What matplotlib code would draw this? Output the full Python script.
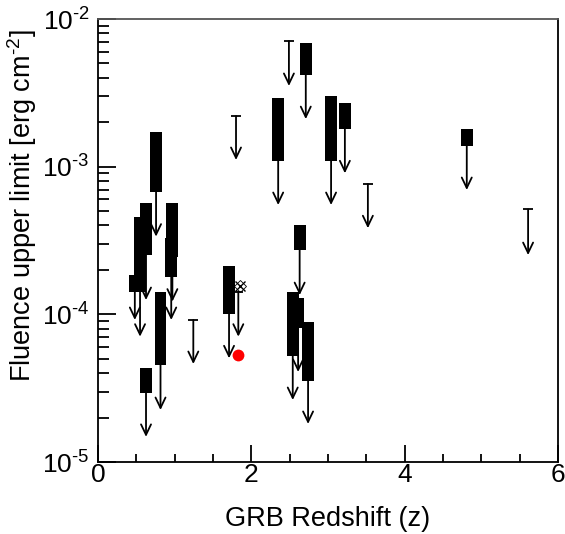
import matplotlib
matplotlib.use("Agg")
import matplotlib.pyplot as plt
from matplotlib.ticker import MultipleLocator, LogLocator, NullFormatter, FuncFormatter
import numpy as np

plt.rcParams["font.family"] = ["Liberation Sans", "DejaVu Sans"]
plt.rcParams["mathtext.fontset"] = "custom"
plt.rcParams["mathtext.rm"] = "Liberation Sans"
plt.rcParams["mathtext.it"] = "Liberation Sans:italic"

# ── GRBs with a fluence range (thick bar) and an upper-limit arrow ──────────
bar_z      = [0.48, 0.548, 0.626, 0.757, 0.955, 0.97, 0.815, 0.626, 1.709,
              2.35, 2.71, 3.04, 3.22, 4.81, 2.63, 2.54, 2.61, 2.74]
bar_top    = [1.85e-4, 4.58e-4, 5.70e-4, 1.71e-3, 3.27e-4, 5.70e-4, 1.42e-4, 4.31e-5, 2.12e-4,
              2.90e-3, 6.84e-3, 3.01e-3, 2.69e-3, 1.80e-3, 4.03e-4, 1.41e-4, 1.30e-4, 8.83e-5]
bar_bottom = [1.42e-4, 1.42e-4, 2.52e-4, 6.77e-4, 1.80e-4, 2.46e-4, 4.54e-5, 2.92e-5, 1.005e-4,
              1.10e-3, 4.18e-3, 1.10e-3, 1.80e-3, 1.39e-3, 2.73e-4, 5.25e-5, 8.04e-5, 3.54e-5]
bar_tip    = [9.16e-5, 7.06e-5, 1.25e-4, 3.36e-4, 9.16e-5, 1.22e-4, 2.25e-5, 1.48e-5, 5.04e-5,
              5.50e-4, 2.10e-3, 5.50e-4, 9.02e-4, 6.95e-4, 1.35e-4, 2.63e-5, 4.07e-5, 1.81e-5]

# ── GRBs with a single upper limit (cap + arrow) ────────────────────────────
cap_z   = [1.243, 1.80, 1.83, 2.49, 3.52, 5.61]
cap_val = [9.16e-5, 2.20e-3, 1.42e-4, 7.10e-3, 7.63e-4, 5.14e-4]
cap_tip = [4.61e-5, 1.11e-3, 7.06e-5, 3.52e-3, 3.83e-4, 2.52e-4]

# special markers
cross_z, cross_val = 1.852, 1.556e-4
red_z, red_val = 1.82, 5.31e-5

fig = plt.figure(figsize=(5.65, 5.34), dpi=100)
ax = fig.add_axes([0.1735, 0.1348, 0.8141, 0.8296])
ax.set_yscale("log")
ax.set_xlim(0, 6)
ax.set_ylim(1e-5, 1e-2)

arrow_style = "->,head_length=0.75,head_width=0.36"

for z, top, bot, tip in zip(bar_z, bar_top, bar_bottom, bar_tip):
    ax.annotate("", xy=(z, tip), xytext=(z, bot),
                arrowprops=dict(arrowstyle=arrow_style, color="black", lw=1.3,
                                shrinkA=0, shrinkB=0))
ax.bar(bar_z, [t - b for t, b in zip(bar_top, bar_bottom)], bottom=bar_bottom,
       width=0.155, color="black", zorder=3)

for z, v, tip in zip(cap_z, cap_val, cap_tip):
    ax.annotate("", xy=(z, tip), xytext=(z, v),
                arrowprops=dict(arrowstyle=arrow_style, color="black", lw=1.3,
                                shrinkA=0, shrinkB=0))
    ax.hlines(v, z - 0.065, z + 0.065, color="black", lw=1.3)

ax.plot([cross_z], [cross_val], marker="x", ms=7, mew=1.0, color="black", zorder=4)
ax.plot([cross_z], [cross_val], marker="D", ms=6, mew=0.6, mfc="none", mec="black", zorder=4)
ax.plot([red_z], [red_val], marker="o", ms=8.5, color="#ff0000", mec="none", zorder=5)

ax.xaxis.set_major_locator(MultipleLocator(2))
ax.xaxis.set_minor_locator(MultipleLocator(0.5))
ax.yaxis.set_major_locator(LogLocator(base=10))
ax.yaxis.set_minor_locator(LogLocator(base=10, subs=range(2, 10)))
ax.yaxis.set_minor_formatter(NullFormatter())
# exponent written with a plain hyphen, as in the original figure
ax.yaxis.set_major_formatter(FuncFormatter(
    lambda v, pos: r"$\mathdefault{10^{\text{-%d}}}$" % round(-np.log10(v))))

ax.tick_params(which="both", direction="in", top=False, right=False,
               labelsize=19, width=1.3)
ax.tick_params(axis="y", which="major", length=13, pad=6)
ax.tick_params(axis="y", which="minor", length=8)
ax.tick_params(axis="x", which="major", length=12, pad=1)
ax.tick_params(axis="x", which="minor", length=6)

for side, spine in ax.spines.items():
    spine.set_linewidth(1.3)
    spine.set_color("#555555" if side == "top" else "black")

ax.set_xlabel("GRB Redshift (z)", fontsize=19.5)
ax.set_ylabel(r"Fluence upper limit [erg cm$^{\text{-2}}$]", fontsize=19.5)
ax.xaxis.set_label_coords(0.5, -0.10)
ax.yaxis.set_label_coords(-0.128, 0.578)

fig.savefig("out.png", dpi=100, facecolor="white")
